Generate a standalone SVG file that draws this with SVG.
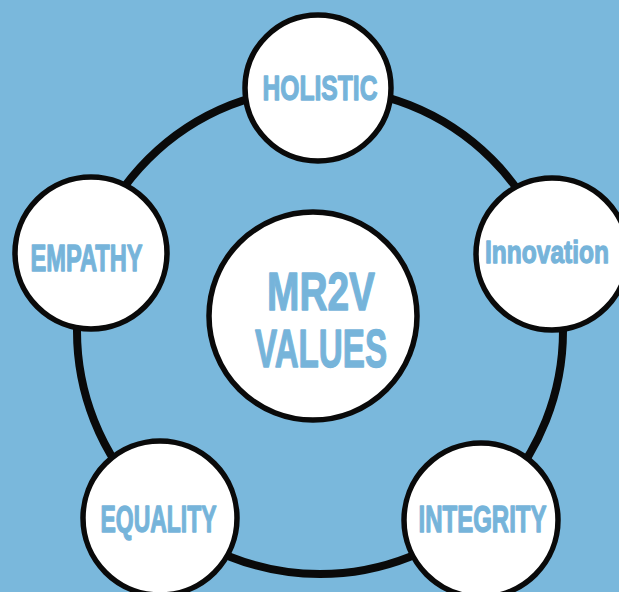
<svg xmlns="http://www.w3.org/2000/svg" width="619" height="592" viewBox="0 0 619 592">
<style>
.node{fill:#ffffff;stroke:#0a0a0a;stroke-width:5.5}
.lbl{font-family:"Liberation Sans",Arial,sans-serif;font-weight:bold;fill:#76b4da;stroke:#76b4da;stroke-width:1.3;stroke-linejoin:round;text-anchor:middle}
</style>
<rect x="0" y="0" width="619" height="592" fill="#7ab8dc"/>
<g id="connectors">
<circle cx="320" cy="331" r="243" fill="none" stroke="#0a0a0a" stroke-width="8"/>
</g>
<g id="center">
<circle class="node" cx="313" cy="316" r="104"/>
<text class="lbl" x="321" y="310" font-size="53" textLength="108" lengthAdjust="spacingAndGlyphs">MR2V</text>
<text class="lbl" x="321" y="367" font-size="54" textLength="132" lengthAdjust="spacingAndGlyphs">VALUES</text>
</g>
<g id="holistic">
<circle class="node" cx="318" cy="88" r="73"/>
<text class="lbl" x="320" y="100" font-size="35" textLength="115" lengthAdjust="spacingAndGlyphs">HOLISTIC</text>
</g>
<g id="empathy">
<circle class="node" cx="91" cy="253" r="76"/>
<text class="lbl" x="86.5" y="271" font-size="36" textLength="112" lengthAdjust="spacingAndGlyphs">EMPATHY</text>
</g>
<g id="innovation">
<circle class="node" cx="552" cy="254" r="76"/>
<text class="lbl" x="547" y="263" font-size="32" textLength="124" lengthAdjust="spacingAndGlyphs">Innovation</text>
</g>
<g id="equality">
<circle class="node" cx="160" cy="518" r="77"/>
<text class="lbl" x="158.5" y="532" font-size="36" textLength="116" lengthAdjust="spacingAndGlyphs">EQUALITY</text>
</g>
<g id="integrity">
<circle class="node" cx="481" cy="520" r="77"/>
<text class="lbl" x="482.5" y="532" font-size="36" textLength="128" lengthAdjust="spacingAndGlyphs">INTEGRITY</text>
</g>
</svg>
